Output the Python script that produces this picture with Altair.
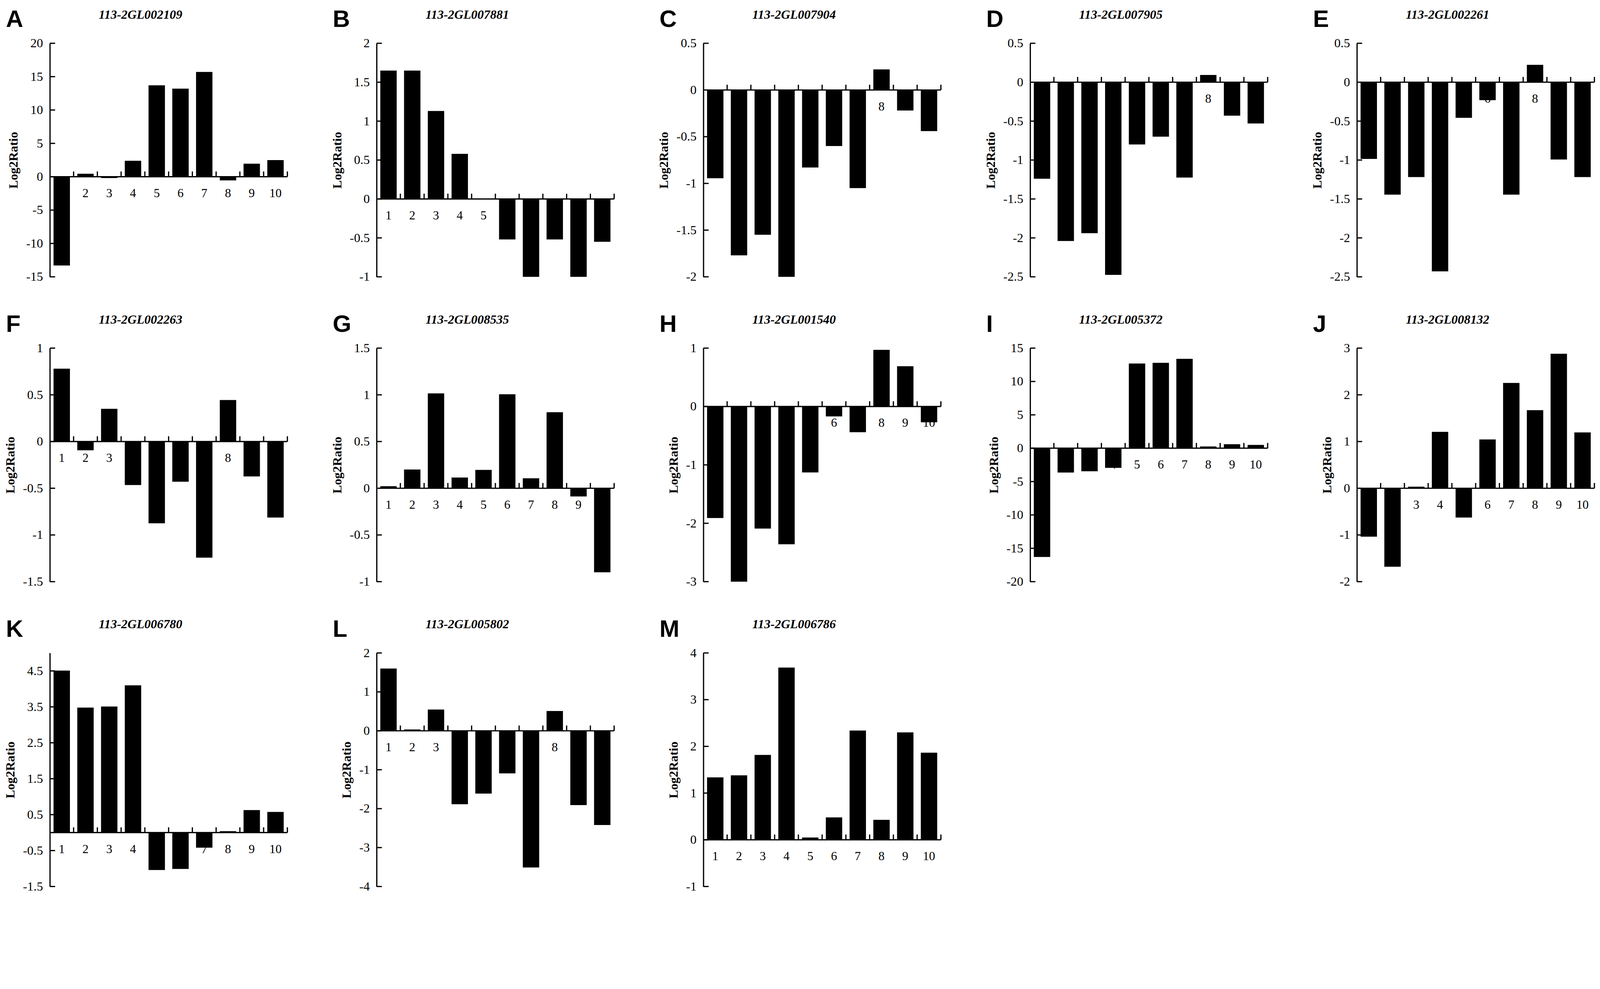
import altair as alt
import pandas as pd

SERIF = "Liberation Serif"
SANS = "Liberation Sans"

letters = ["A", "B", "C", "D", "E", "F", "G", "H", "I", "J", "K", "L", "M"]
genes = ["113-2GL002109", "113-2GL007881", "113-2GL007904", "113-2GL007905", "113-2GL002261",
         "113-2GL002263", "113-2GL008535", "113-2GL001540", "113-2GL005372", "113-2GL008132",
         "113-2GL006780", "113-2GL005802", "113-2GL006786"]
samples = [1, 2, 3, 4, 5, 6, 7, 8, 9, 10]

vals_A = [-13.3, 0.45, -0.2, 2.4, 13.7, 13.2, 15.7, -0.55, 1.96, 2.5]
vals_B = [1.65, 1.65, 1.13, 0.58, 0.0, -0.52, -1.0, -0.52, -1.0, -0.55]
vals_C = [-0.945, -1.77, -1.55, -2.0, -0.83, -0.60, -1.05, 0.22, -0.22, -0.44]
vals_D = [-1.24, -2.04, -1.94, -2.475, -0.80, -0.70, -1.225, 0.093, -0.43, -0.53]
vals_E = [-0.985, -1.444, -1.218, -2.43, -0.458, -0.23, -1.444, 0.223, -0.993, -1.218]
vals_F = [0.78, -0.094, 0.35, -0.466, -0.875, -0.43, -1.243, 0.444, -0.374, -0.814]
vals_G = [0.022, 0.20, 1.016, 0.115, 0.196, 1.006, 0.106, 0.814, -0.088, -0.90]
vals_H = [-1.91, -3.0, -2.09, -2.36, -1.13, -0.17, -0.44, 0.97, 0.69, -0.27]
vals_I = [-16.3, -3.65, -3.45, -2.94, 12.7, 12.8, 13.4, 0.26, 0.6, 0.49]
vals_J = [-1.036, -1.68, 0.033, 1.207, -0.628, 1.044, 2.255, 1.672, 2.88, 1.195]
vals_K = [4.51, 3.48, 3.51, 4.10, -1.04, -1.01, -0.42, 0.04, 0.626, 0.574]
vals_L = [1.60, 0.034, 0.547, -1.887, -1.613, -1.095, -3.51, 0.509, -1.91, -2.42]
vals_M = [1.336, 1.38, 1.816, 3.688, 0.048, 0.48, 2.34, 0.428, 2.30, 1.864]

ticks_A = [-15, -10, -5, 0, 5, 10, 15, 20]
ticks_B = [-1, -0.5, 0, 0.5, 1, 1.5, 2]
ticks_C = [-2, -1.5, -1, -0.5, 0, 0.5]
ticks_D = [-2.5, -2, -1.5, -1, -0.5, 0, 0.5]
ticks_E = [-2.5, -2, -1.5, -1, -0.5, 0, 0.5]
ticks_F = [-1.5, -1, -0.5, 0, 0.5, 1]
ticks_G = [-1, -0.5, 0, 0.5, 1, 1.5]
ticks_H = [-3, -2, -1, 0, 1]
ticks_I = [-20, -15, -10, -5, 0, 5, 10, 15]
ticks_J = [-2, -1, 0, 1, 2, 3]
ticks_K = [-1.5, -0.5, 0.5, 1.5, 2.5, 3.5, 4.5]
ticks_L = [-4, -3, -2, -1, 0, 1, 2]
ticks_M = [-1, 0, 1, 2, 3, 4]

domain_K = [-1.5, 5]

W = 676
H = 665
LW = 3.5


def panel(letter, gene, vals, ticks, domain=None):
    if domain is None:
        domain = [min(ticks), max(ticks)]
    df = pd.DataFrame({"sample": samples, "value": vals, "zero": [0] * len(samples)})
    tdf = pd.DataFrame({"tick": ticks})
    zdf = pd.DataFrame({"zero": [0]})
    ldf = pd.DataFrame({"letter": [letter], "gene": [gene]})

    yscale = alt.Scale(domain=domain, nice=False, zero=False)
    yaxis = alt.Axis(values=ticks, labelExpr="datum.value + ''", ticks=False, tickSize=0,
                     domain=True, domainColor="black", domainWidth=LW, grid=False,
                     labelFont=SERIF, labelFontSize=36, labelColor="black", labelPadding=20,
                     labelFlush=False, labelOverlap=False,
                     titleFont=SERIF, titleFontSize=36, titleFontWeight="bold",
                     titleColor="black", titlePadding=16)

    def ye(field):
        return alt.Y(field, type="quantitative", scale=yscale, axis=yaxis, title="Log2Ratio")

    xs = alt.Scale(paddingInner=0, paddingOuter=0)
    xe = alt.X("sample:O", axis=None, scale=xs)

    labels = alt.Chart(df).mark_text(dy=47, fontSize=35, font=SERIF, color="black").encode(
        x=xe, y=ye("zero"), text=alt.Text("sample:N"))
    bars = alt.Chart(df).mark_bar(width=alt.RelativeBandSize(0.69), color="black").encode(
        x=xe, y=ye("value"), y2=alt.Y2("zero"))
    zline = alt.Chart(zdf).mark_rule(color="black", strokeWidth=LW).encode(
        y=ye("zero"), x=alt.value(0), x2=alt.value(W))
    xticks = alt.Chart(df).mark_tick(orient="vertical", size=15, thickness=LW, yOffset=-7.5,
                                     color="black", opacity=1).encode(
        x=alt.X("sample:O", axis=None, scale=xs, bandPosition=1), y=ye("zero"))
    yticks = alt.Chart(tdf).mark_tick(orient="horizontal", size=15, thickness=LW, xOffset=7.5,
                                      color="black", opacity=1).encode(
        y=ye("tick"), x=alt.value(0))
    ltext = alt.Chart(ldf).mark_text(align="left", baseline="alphabetic", fontSize=68,
                                     fontWeight="bold", font=SANS, color="black").encode(
        x=alt.value(-125), y=alt.value(-46), text="letter:N")
    gtext = alt.Chart(ldf).mark_text(align="center", baseline="alphabetic", fontSize=36,
                                     fontWeight="bold", fontStyle="italic", font=SERIF,
                                     color="black").encode(
        x=alt.value(W / 2 - 80), y=alt.value(-70), text="gene:N")

    return alt.layer(labels, bars, zline, xticks, yticks, ltext, gtext).properties(
        width=W, height=H)


panels = [
    panel("A", genes[0], vals_A, ticks_A),
    panel("B", genes[1], vals_B, ticks_B),
    panel("C", genes[2], vals_C, ticks_C),
    panel("D", genes[3], vals_D, ticks_D),
    panel("E", genes[4], vals_E, ticks_E),
    panel("F", genes[5], vals_F, ticks_F),
    panel("G", genes[6], vals_G, ticks_G),
    panel("H", genes[7], vals_H, ticks_H),
    panel("I", genes[8], vals_I, ticks_I),
    panel("J", genes[9], vals_J, ticks_J),
    panel("K", genes[10], vals_K, ticks_K, domain_K),
    panel("L", genes[11], vals_L, ticks_L),
    panel("M", genes[12], vals_M, ticks_M),
]

chart = alt.concat(*panels, columns=5, spacing={"row": 203, "column": 254},
                   bounds="flush").properties(
    padding={"left": 3, "top": -120, "right": 5, "bottom": 5},
    background="white"
).configure_view(stroke="transparent", strokeWidth=0)

chart.save("out.html", embed_options={"renderer": "svg", "actions": False})
